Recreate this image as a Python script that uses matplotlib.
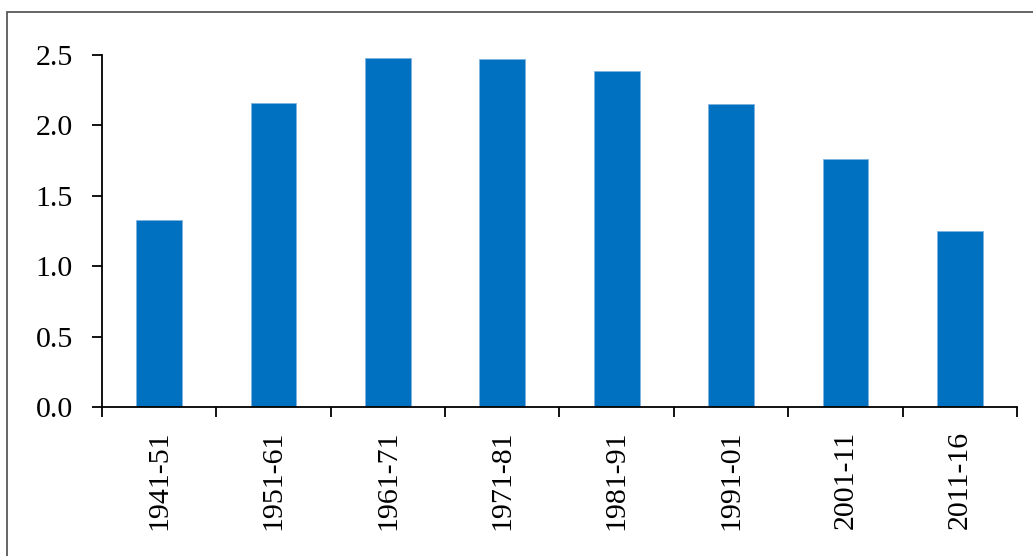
import matplotlib.pyplot as plt
from matplotlib.ticker import FormatStrFormatter, MultipleLocator, FixedLocator
from matplotlib.patches import Rectangle

periods = ['1941-51', '1951-61', '1961-71', '1971-81',
           '1981-91', '1991-01', '2001-11', '2011-16']
growth = [1.33, 2.16, 2.48, 2.47, 2.39, 2.15, 1.76, 1.25]

plt.rcParams['font.family'] = ['Liberation Serif', 'DejaVu Serif']

fig = plt.figure(figsize=(10.33, 5.56), dpi=100)
ax = fig.add_axes([0.0987, 0.268, 0.8858, 0.633])

x = range(len(periods))
ax.bar(x, growth, width=0.4, color='#0070C0', edgecolor='#7FB2E0', linewidth=0.6)

ax.set_xlim(-0.5, len(periods) - 0.5)
ax.set_ylim(0, 2.5)
ax.yaxis.set_major_locator(MultipleLocator(0.5))
ax.yaxis.set_major_formatter(FormatStrFormatter('%.1f'))

ax.set_xticks(list(x))
ax.set_xticklabels(periods, rotation=90, fontsize=21.5)
ax.tick_params(axis='x', which='major', length=0, pad=17)
ax.xaxis.set_minor_locator(FixedLocator([i - 0.5 for i in range(len(periods) + 1)]))
ax.tick_params(axis='x', which='minor', length=7, width=1.3, direction='out')
ax.tick_params(axis='y', length=7, width=1.3, direction='out', pad=14, labelsize=21.5)

for s in ['top', 'right']:
    ax.spines[s].set_visible(False)
for s in ['left', 'bottom']:
    ax.spines[s].set_linewidth(1.3)

# outer chart frame
fig.patches.append(Rectangle((0.0068, -0.05), 1.1, 0.028 + 1.0 - 0.028 + 0.028,
                             transform=fig.transFigure, fill=False,
                             edgecolor='#595959', linewidth=1.3))

fig.savefig('out.png', dpi=100)
